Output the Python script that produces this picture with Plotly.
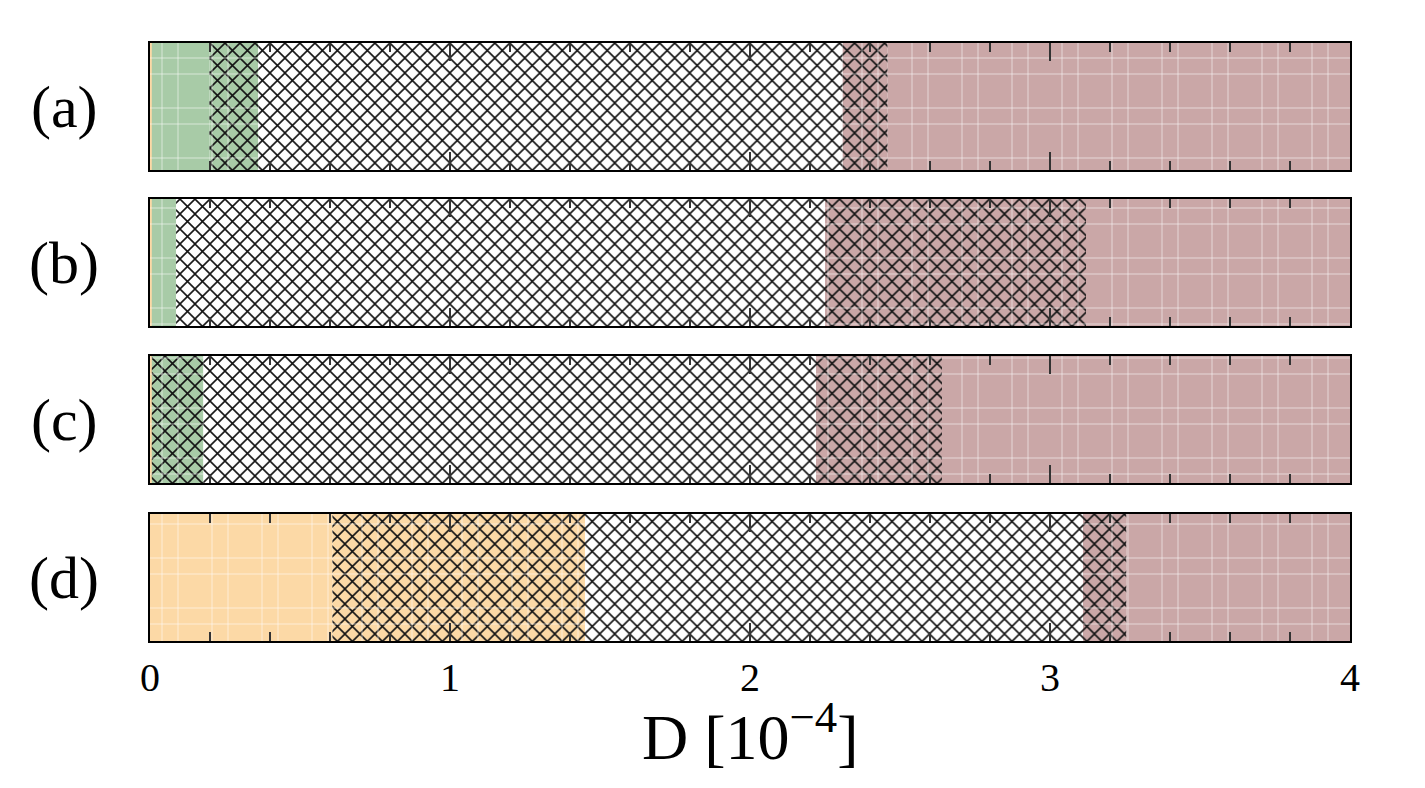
import plotly.graph_objects as go

# ---------------- data ----------------
panel_labels = ["(a)", "(b)", "(c)", "(d)"]

a_edges = [0.0, 0.006, 0.198, 0.361, 2.309, 2.459, 4.0]
a_fill = ["orange", "green", "green", "none", "brown", "brown"]
a_hatch = [False, False, True, True, True, False]

b_edges = [0.0, 0.006, 0.087, 2.25, 3.12, 4.0]
b_fill = ["orange", "green", "none", "brown", "brown"]
b_hatch = [False, False, True, True, False]

c_edges = [0.0, 0.006, 0.178, 2.22, 2.64, 4.0]
c_fill = ["orange", "green", "none", "brown", "brown"]
c_hatch = [False, True, True, True, False]

d_edges = [0.0, 0.608, 1.45, 3.11, 3.255, 4.0]
d_fill = ["orange", "orange", "none", "brown", "brown"]
d_hatch = [False, True, True, True, False]

x_ticks = [0, 1, 2, 3, 4]
x_tick_text = ["0", "1", "2", "3", "4"]

# ---------------- style ----------------
COLORS = {"orange": "#fcd9a6", "green": "#a8cba7", "brown": "#caa7a7", "none": "#ffffff"}
FONT = "Liberation Serif"
W, H = 1425, 788
ML, MR, MT, MB = 150, 75, 43, 147
PLOT_W = W - ML - MR
PLOT_H = H - MT - MB
XMIN, XMAX = 0.0, 4.0
panel_px = [(43, 170), (199, 326), (356, 483), (514, 641)]
GRID_STEP = 50
GRID_X_OFF = (12, 28)
GRID_Y_OFF = (8, 24)

panels = [
    (a_edges, a_fill, a_hatch),
    (b_edges, b_fill, b_hatch),
    (c_edges, c_fill, c_hatch),
    (d_edges, d_fill, d_hatch),
]

fig = go.Figure()
unit_px = PLOT_W / (XMAX - XMIN)

for i, (edges, fills, hatches) in enumerate(panels):
    n = i + 1
    xa = "x" if n == 1 else f"x{n}"
    ya = "y" if n == 1 else f"y{n}"
    top, bot = panel_px[i]
    hpx = bot - top
    # faint white background grid, drawn only where the bar is coloured
    vx = []
    for k in range(0, W // GRID_STEP + 2):
        for off in GRID_X_OFF:
            p = off + k * GRID_STEP
            if ML < p < ML + PLOT_W:
                vx.append((p - ML) / unit_px)
    hy = []
    for k in range(0, H // GRID_STEP + 2):
        for off in GRID_Y_OFF:
            p = off + k * GRID_STEP
            if top + 1 < p < bot - 1:
                hy.append((bot - p) / hpx)
    gx, gy = [], []
    for s, e, f, h in zip(edges[:-1], edges[1:], fills, hatches):
        col = COLORS[f]
        if h:
            mk = dict(color=col, line=dict(width=0),
                      pattern=dict(shape="x", fgcolor="#141414", bgcolor=col,
                                   fgopacity=1, size=10.6, solidity=0.28,
                                   fillmode="replace"))
        else:
            mk = dict(color=col, line=dict(width=0))
        fig.add_trace(go.Bar(
            orientation="h", y=[0.5], x=[e - s], base=[s], width=1.0,
            xaxis=xa, yaxis=ya, marker=mk,
            hoverinfo="skip", showlegend=False,
        ))
        if f == "none":
            continue
        for v in vx:
            if s < v < e:
                gx += [v, v, None]
                gy += [0, 1, None]
        for hh in hy:
            gx += [s, e, None]
            gy += [hh, hh, None]
    fig.add_trace(go.Scatter(
        x=gx, y=gy, mode="lines", xaxis=xa, yaxis=ya,
        line=dict(color="rgba(255,255,255,0.55)", width=1),
        hoverinfo="skip", showlegend=False,
    ))

layout = dict(
    width=W, height=H,
    margin=dict(l=ML, r=MR, t=MT, b=MB),
    paper_bgcolor="white", plot_bgcolor="white",
    barmode="overlay",
    font=dict(family=FONT, color="black"),
    annotations=[],
)

for i in range(4):
    n = i + 1
    top, bot = panel_px[i]
    dom = [(H - MB - bot) / PLOT_H, (H - MB - top) / PLOT_H]
    xk = "xaxis" if n == 1 else f"xaxis{n}"
    yk = "yaxis" if n == 1 else f"yaxis{n}"
    ya = "y" if n == 1 else f"y{n}"
    layout[xk] = dict(
        domain=[0, 1], anchor=ya, range=[XMIN, XMAX],
        showgrid=False, zeroline=False,
        showline=True, linecolor="black", linewidth=2, mirror="ticks",
        ticks="inside", ticklen=18, tickwidth=1.5, tickcolor="#333333",
        tickvals=x_ticks, ticktext=x_tick_text,
        showticklabels=(n == 4),
        tickfont=dict(family=FONT, size=40, color="black"),
        minor=dict(dtick=0.2, ticks="inside", ticklen=9, tickwidth=1.5,
                   tickcolor="#333333", showgrid=False),
        layer="above traces",
    )
    if n != 1:
        layout[xk]["matches"] = "x"
    layout[yk] = dict(
        domain=dom, anchor="x" if n == 1 else f"x{n}", range=[0, 1],
        showgrid=False, zeroline=False, showticklabels=False, ticks="",
        showline=True, linecolor="black", linewidth=2, mirror=True,
        fixedrange=True,
    )
    layout["annotations"].append(dict(
        text=panel_labels[i], xref="paper", yref="paper",
        x=(64 - ML) / PLOT_W, y=((H - MB) - (top + bot) / 2) / PLOT_H,
        xanchor="center", yanchor="middle", showarrow=False,
        font=dict(family=FONT, size=60, color="black"),
    ))

layout["annotations"].append(dict(
    text="D [10<sup>−4</sup>]", xref="paper", yref="paper",
    x=0.5, y=((H - MB) - 733) / PLOT_H,
    xanchor="center", yanchor="middle", showarrow=False,
    font=dict(family=FONT, size=64, color="black"),
))

fig.update_layout(**layout)
fig.write_html("out.html")
